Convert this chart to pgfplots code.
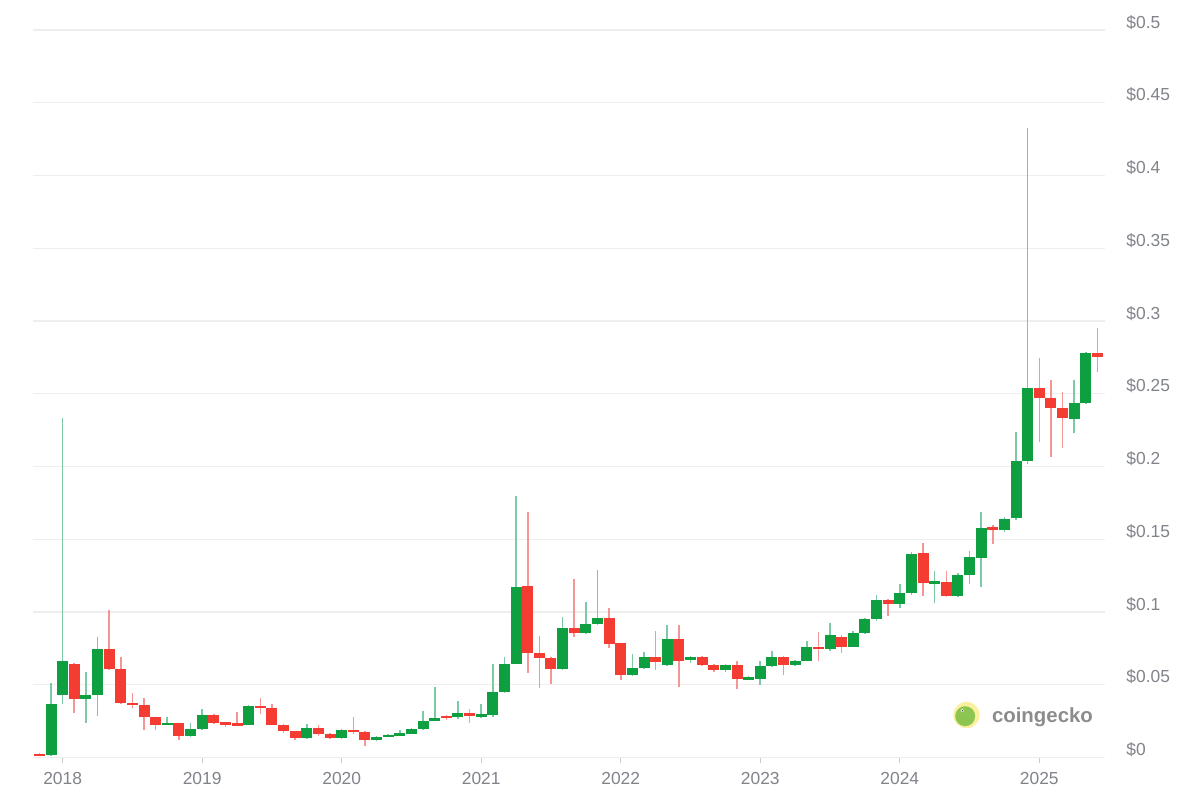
\documentclass[border=0pt]{standalone}
\usepackage{pgfplots}
\pgfplotsset{compat=1.18}
\usepackage{pgfplotstable}
\usepackage{fontspec}
\setmainfont{Liberation Sans}
\definecolor{upc}{RGB}{14,160,64}
\definecolor{dnc}{RGB}{245,60,50}
\definecolor{upw}{RGB}{125,200,165}
\definecolor{dnw}{RGB}{245,150,150}
\definecolor{lab}{RGB}{128,132,138}
\definecolor{gridc}{RGB}{238,238,238}
\definecolor{geckoy}{RGB}{250,240,160}
\definecolor{geckog}{RGB}{140,198,80}
\definecolor{wm}{RGB}{140,140,140}

% monthly candles, x = months since Jan 2018
\pgfplotstableread{
x o h l c
-1 0.002 0.051 0.001 0.037
0 0.043 0.233 0.037 0.066
2 0.040 0.059 0.024 0.043
3 0.043 0.0827 0.0286 0.0744
9 0.0225 0.028 0.022 0.0236
11 0.0149 0.0236 0.014 0.0195
12 0.0195 0.0332 0.019 0.0293
16 0.0225 0.036 0.022 0.0355
21 0.0133 0.023 0.013 0.0206
24 0.0137 0.0195 0.013 0.019
27 0.0121 0.015 0.0115 0.0144
28 0.0144 0.016 0.014 0.015
29 0.015 0.019 0.0145 0.0163
30 0.0163 0.020 0.016 0.0195
31 0.0195 0.032 0.019 0.0252
32 0.0252 0.0488 0.025 0.027
34 0.0275 0.0385 0.0265 0.0305
36 0.0286 0.037 0.027 0.029
37 0.029 0.0644 0.028 0.0449
38 0.0449 0.069 0.044 0.0646
39 0.0646 0.1797 0.064 0.1175
43 0.0607 0.0968 0.060 0.0889
45 0.0859 0.107 0.085 0.0918
46 0.0918 0.1289 0.091 0.0962
49 0.0568 0.0712 0.056 0.0614
50 0.0614 0.0725 0.061 0.0694
52 0.0637 0.0911 0.063 0.0813
54 0.0671 0.070 0.065 0.069
57 0.0598 0.064 0.059 0.0637
59 0.0538 0.056 0.053 0.055
60 0.0538 0.066 0.050 0.063
61 0.063 0.0735 0.062 0.0694
63 0.0637 0.067 0.063 0.0664
64 0.0664 0.080 0.066 0.0762
66 0.0744 0.0927 0.073 0.0843
68 0.0762 0.087 0.076 0.0859
69 0.0859 0.096 0.085 0.095
70 0.095 0.112 0.094 0.1083
72 0.1056 0.119 0.103 0.1129
73 0.1133 0.141 0.112 0.1399
75 0.1202 0.128 0.106 0.1205
77 0.111 0.127 0.110 0.1255
78 0.1255 0.142 0.119 0.1376
79 0.137 0.169 0.1175 0.158
81 0.1564 0.165 0.155 0.1637
82 0.1644 0.224 0.163 0.204
83 0.204 0.4325 0.202 0.2537
87 0.2324 0.2594 0.2228 0.2438
88 0.2438 0.279 0.243 0.2782
}\upcandles

\pgfplotstableread{
x o h l c
-2 0.002 0.003 0.001 0.0015
1 0.064 0.065 0.0305 0.040
4 0.0744 0.1014 0.060 0.0607
5 0.0607 0.0694 0.037 0.0374
6 0.0374 0.044 0.034 0.036
7 0.036 0.041 0.0186 0.0277
8 0.0277 0.028 0.0186 0.0225
10 0.0236 0.024 0.0117 0.0149
13 0.0293 0.030 0.023 0.0236
14 0.0236 0.024 0.021 0.023
15 0.0228 0.031 0.022 0.0225
17 0.0355 0.041 0.030 0.034
18 0.034 0.0365 0.022 0.0225
19 0.0225 0.023 0.017 0.0179
20 0.0179 0.018 0.012 0.0133
22 0.0206 0.0225 0.015 0.016
23 0.016 0.0165 0.013 0.0137
25 0.019 0.0277 0.016 0.0172
26 0.0172 0.018 0.008 0.0121
33 0.0285 0.029 0.026 0.0272
35 0.0305 0.033 0.024 0.0286
40 0.118 0.1685 0.058 0.0721
41 0.0721 0.0836 0.0477 0.0683
42 0.0683 0.069 0.0506 0.0607
44 0.0889 0.1225 0.083 0.0859
47 0.0962 0.1026 0.075 0.0779
48 0.0786 0.079 0.0534 0.0568
51 0.0694 0.0872 0.060 0.0653
53 0.0813 0.0911 0.0483 0.0664
55 0.069 0.070 0.063 0.0637
56 0.0637 0.064 0.059 0.0598
58 0.0637 0.066 0.047 0.0538
62 0.0694 0.070 0.057 0.0637
65 0.0762 0.0866 0.066 0.0744
67 0.0831 0.084 0.072 0.0762
71 0.1083 0.109 0.097 0.1056
74 0.1408 0.1472 0.111 0.1202
76 0.1205 0.1284 0.110 0.111
80 0.158 0.160 0.147 0.1564
84 0.2537 0.2743 0.217 0.2473
85 0.2473 0.2594 0.2067 0.240
86 0.240 0.2514 0.2125 0.2335
89 0.2777 0.2949 0.2651 0.2754
}\downcandles

\begin{document}
\begin{tikzpicture}
\begin{axis}[
  at={(16.5pt,20.75pt)}, anchor=south west,
  scale only axis, width=536pt, height=363.75pt,
  xmin=-2.55, xmax=89.65, ymin=0, ymax=0.5,
  axis line style={draw=none},
  ymajorgrids, major grid style={draw=gridc, line width=0.6pt},
  xtick={0,12,24,36,48,60,72,84},
  xticklabels={2018,2019,2020,2021,2022,2023,2024,2025},
  ytick={0,0.05,0.1,0.15,0.2,0.25,0.3,0.35,0.4,0.45,0.5},
  yticklabels={\$0,\$0.05,\$0.1,\$0.15,\$0.2,\$0.25,\$0.3,\$0.35,\$0.4,\$0.45,\$0.5},
  xtick pos=left, ytick pos=right, yticklabel pos=right,
  tick align=outside, major tick length=2.5pt,
  xtick style={draw=gridc!85!black, line width=0.5pt},
  ytick style={draw=none},
  tick label style={font=\fontsize{8.7}{10}\selectfont, text=lab},
  xticklabel style={anchor=north, inner sep=0pt, yshift=-4.5pt},
  yticklabel style={anchor=base west, inner sep=0pt, xshift=8pt, yshift=1pt},
  candle/.style={draw=none, no markers, forget plot,
    error bars/.cd, y dir=both, y explicit, error mark=none},
]
% wicks
\addplot[candle, error bar style={draw=upw, line width=0.8pt}]
  table[x=x, y expr={(\thisrow{h}+\thisrow{l})/2}, y error expr={(\thisrow{h}-\thisrow{l})/2}]{\upcandles};
\addplot[candle, error bar style={draw=dnw, line width=0.8pt}]
  table[x=x, y expr={(\thisrow{h}+\thisrow{l})/2}, y error expr={(\thisrow{h}-\thisrow{l})/2}]{\downcandles};
% bodies
\addplot[candle, error bar style={draw=upc, line width=5.5pt}]
  table[x=x, y expr={(\thisrow{o}+\thisrow{c})/2}, y error expr={max(abs(\thisrow{c}-\thisrow{o})/2,0.0009)}]{\upcandles};
\addplot[candle, error bar style={draw=dnc, line width=5.5pt}]
  table[x=x, y expr={(\thisrow{o}+\thisrow{c})/2}, y error expr={max(abs(\thisrow{c}-\thisrow{o})/2,0.0009)}]{\downcandles};
\end{axis}
% watermark
\fill[geckoy] (483.25pt,42pt) circle (6.6pt);
\fill[geckog] (482.6pt,41.4pt) circle (5.0pt);
\fill[white] (481.2pt,44.2pt) circle (0.9pt);
\fill[black!70] (481.3pt,44.2pt) circle (0.45pt);
\node[anchor=base west, inner sep=0pt, text=wm, font=\bfseries\fontsize{10.2}{12}\selectfont] at (495.8pt,38.2pt) {coingecko};
\pgfresetboundingbox
\path[use as bounding box] (0,0) rectangle (600pt,399.5pt);
\end{tikzpicture}
\end{document}
